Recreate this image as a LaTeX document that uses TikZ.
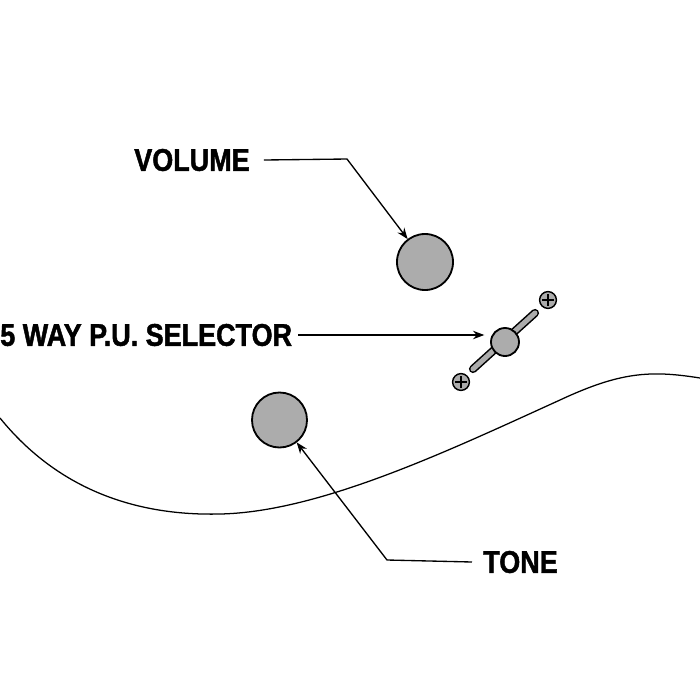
\documentclass[tikz,border=0pt]{standalone}
\usepackage{fontspec}
\newfontfamily\lblfont{Liberation Sans}[FakeStretch=0.86, BoldFeatures={FakeBold=1.4}]
\usetikzlibrary{arrows.meta}
\definecolor{knobgray}{RGB}{172,172,172}
\tikzset{
  lbl/.style={inner sep=0pt, font=\lblfont\bfseries\fontsize{22.3pt}{24pt}\selectfont},
  knob/.style={circle, draw=black, line width=1.3pt, fill=knobgray, inner sep=0pt, outer sep=0.5pt},
  leader/.style={line width=0.95pt, -{Stealth[length=8pt, width=6pt]}},
  body/.style={line width=0.9pt},
}
\begin{document}
\begin{tikzpicture}[x=0.025cm, y=-0.025cm]
\useasboundingbox (0,0) rectangle (700,700);
% body outline
\draw[body] (0,418) .. controls (60,492) and (140,516) .. (220,514)
  .. controls (320,512) and (450,450) .. (560,400)
  .. controls (620,372) and (650,370) .. (700,378);
% selector lever
\draw[line width=5.8pt, line cap=round, black] (473,369) -- (535,313);
\draw[line width=3.6pt, line cap=round, knobgray] (473,369) -- (535,313);
% screws
\node[knob, minimum size=0.42cm, line width=1pt] (scr1) at (548,300) {};
\node[knob, minimum size=0.42cm, line width=1pt] (scr2) at (461,382) {};
\draw[line width=0.8pt] ([xshift=-0.15cm]scr1.center) -- ([xshift=0.15cm]scr1.center)
  ([yshift=-0.15cm]scr1.center) -- ([yshift=0.15cm]scr1.center);
\draw[line width=0.8pt] ([xshift=-0.15cm]scr2.center) -- ([xshift=0.15cm]scr2.center)
  ([yshift=-0.15cm]scr2.center) -- ([yshift=0.15cm]scr2.center);
% knobs
\node[knob, minimum size=1.4cm] (vol) at (425,262) {};
\node[knob, minimum size=1.375cm] (tone) at (279.5,420) {};
\node[knob, minimum size=0.7cm] (sel) at (505,342) {};
% labels
\node[lbl, anchor=west] (vollbl) at (134,160) {VOLUME};
\node[lbl, anchor=west] (sellbl) at (0,335) {5 WAY P.U. SELECTOR};
\node[lbl, anchor=west] (tonelbl) at (483,562) {TONE};
% leaders
\coordinate (volbend) at (347,159);
\coordinate (tonebend) at (387,560);
\draw[leader] ([xshift=0.35cm]vollbl.east) -- (volbend) -- (vol);
\draw[leader] ([xshift=0.15cm]sellbl.east) -- ([xshift=-0.15cm]sel.west |- sellbl.east);
\draw[leader] ([xshift=-0.275cm]tonelbl.west) -- (tonebend) -- (tone);
\end{tikzpicture}
\end{document}
